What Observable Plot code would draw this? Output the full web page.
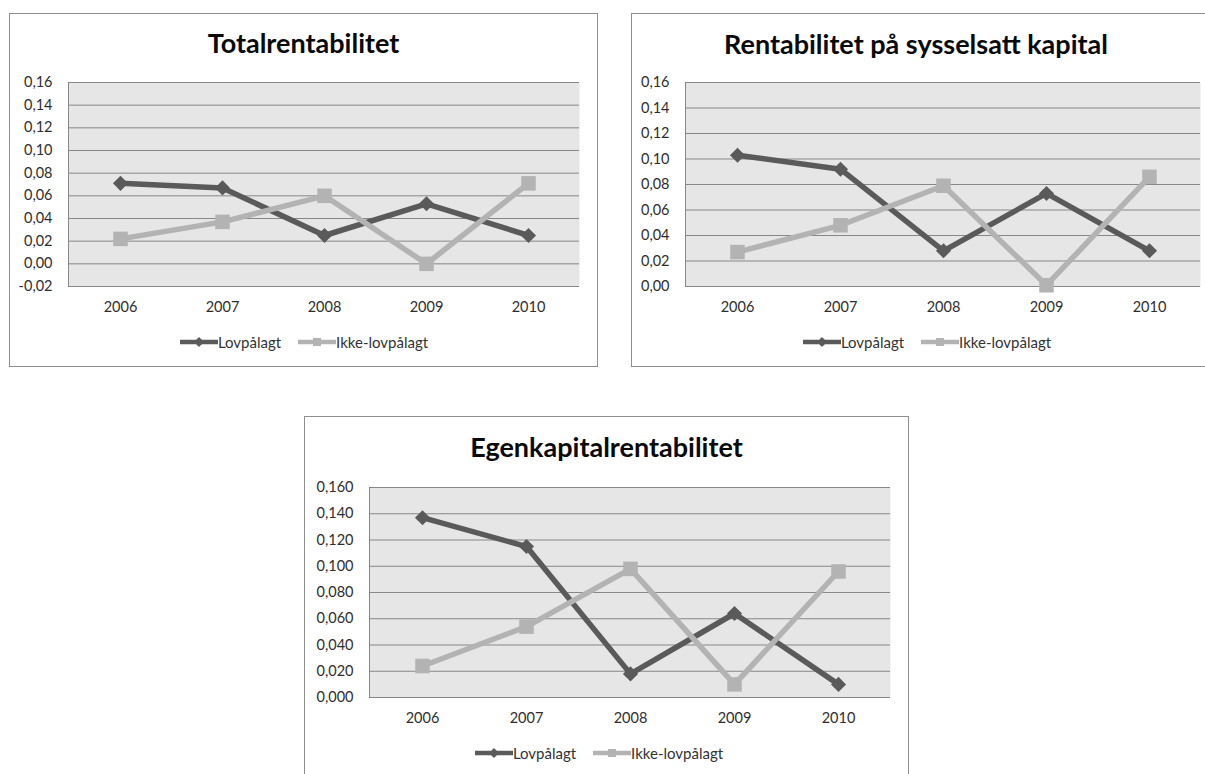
<!DOCTYPE html>
<html>
<head>
<meta charset="utf-8">
<script src="https://cdn.jsdelivr.net/npm/d3@7"></script>
<script src="https://cdn.jsdelivr.net/npm/@observablehq/plot@0.6"></script>
<style>
  html, body { margin: 0; padding: 0; background: #ffffff; }
  body { position: relative; width: 1205px; height: 774px; overflow: hidden; font-family: Lato, "Open Sans", sans-serif; }
  .frame { position: absolute; box-sizing: border-box; border: 1px solid #8e8e8e; background: #ffffff; }
  .title { position: absolute; text-align: center; font-weight: 700; font-size: 27px; line-height: 27px; color: #0a0a0a; white-space: nowrap; }
  .chart { position: absolute; }
  .legend { position: absolute; display: flex; align-items: center; justify-content: center; font-size: 15px; line-height: 16px; color: #333; white-space: nowrap; }
  .legend .item { display: flex; align-items: center; }
  .legend .item + .item { margin-left: 17px; }
  .legend svg { display: block; }
</style>
</head>
<body>
<script>
// Years on the x axis
const years = ["2006", "2007", "2008", "2009", "2010"];
const seriesNames = ["Lovpålagt", "Ikke-lovpålagt"];

// Totalrentabilitet
const totalLov  = [0.071, 0.067, 0.025, 0.053, 0.025];
const totalIkke = [0.022, 0.037, 0.060, 0.000, 0.071];
const totalTicks = [-0.02, 0.00, 0.02, 0.04, 0.06, 0.08, 0.10, 0.12, 0.14, 0.16];

// Rentabilitet på sysselsatt kapital
const rskLov  = [0.103, 0.092, 0.028, 0.073, 0.028];
const rskIkke = [0.027, 0.048, 0.079, 0.001, 0.086];
const rskTicks = [0.00, 0.02, 0.04, 0.06, 0.08, 0.10, 0.12, 0.14, 0.16];

// Egenkapitalrentabilitet
const ekLov  = [0.137, 0.115, 0.018, 0.064, 0.010];
const ekIkke = [0.024, 0.054, 0.098, 0.010, 0.096];
const ekTicks = [0.000, 0.020, 0.040, 0.060, 0.080, 0.100, 0.120, 0.140, 0.160];

const darkColor = "#5a5a5a";
const lightColor = "#b3b3b3";
const gridColor = "#878787";
const plotBg = "#e6e6e6";
const textColor = "#2e2e2e";

function add(el) { document.body.appendChild(el); return el; }

function box(cls, left, top, width, height) {
  const d = document.createElement("div");
  d.className = cls;
  d.style.left = left + "px";
  d.style.top = top + "px";
  if (width != null) d.style.width = width + "px";
  if (height != null) d.style.height = height + "px";
  return add(d);
}

function legendSample(color, symbol) {
  const ns = "http://www.w3.org/2000/svg";
  const svg = document.createElementNS(ns, "svg");
  svg.setAttribute("width", 38);
  svg.setAttribute("height", 14);
  const line = document.createElementNS(ns, "line");
  line.setAttribute("x1", 0); line.setAttribute("x2", 38);
  line.setAttribute("y1", 7); line.setAttribute("y2", 7);
  line.setAttribute("stroke", color); line.setAttribute("stroke-width", 4.5);
  svg.appendChild(line);
  const m = document.createElementNS(ns, "path");
  m.setAttribute("d", symbol === "diamond"
    ? "M19,2L24,7L19,12L14,7Z"
    : "M15,3H23V11H15Z");
  m.setAttribute("fill", color);
  svg.appendChild(m);
  return svg;
}

function legend(centerX, top, width) {
  const lg = box("legend", centerX - width / 2, top, width, 16);
  const samples = [[darkColor, "diamond"], [lightColor, "square"]];
  seriesNames.forEach((name, i) => {
    const item = document.createElement("div");
    item.className = "item";
    item.appendChild(legendSample(samples[i][0], samples[i][1]));
    const t = document.createElement("span");
    t.textContent = name;
    item.appendChild(t);
    lg.appendChild(item);
  });
}

function drawChart(cfg) {
  const {lov, ikke, ticks, decimals, left, top, width, height, margins} = cfg;
  const rows = [];
  years.forEach((year, i) => rows.push({year, value: lov[i], series: seriesNames[0]}));
  years.forEach((year, i) => rows.push({year, value: ikke[i], series: seriesNames[1]}));
  const lovRows = rows.filter(d => d.series === seriesNames[0]);
  const ikkeRows = rows.filter(d => d.series === seriesNames[1]);
  const fmt = d => d.toFixed(decimals).replace(".", ",");

  const svg = Plot.plot({
    width, height,
    marginLeft: margins[0], marginRight: margins[1], marginTop: margins[2], marginBottom: margins[3],
    style: {fontFamily: "Lato, 'Open Sans', sans-serif", fontSize: "14.5px", color: textColor, background: "transparent", overflow: "visible"},
    x: {type: "point", domain: years, padding: 0.5},
    y: {domain: [ticks[0], ticks[ticks.length - 1]]},
    marks: [
      Plot.frame({fill: plotBg, stroke: null}),
      Plot.ruleY(ticks, {stroke: gridColor, strokeWidth: 1}),
      Plot.frame({anchor: "left", stroke: gridColor}),
      Plot.axisY(ticks, {tickSize: 0, tickPadding: 16, tickFormat: fmt, label: null, fill: textColor}),
      Plot.axisX(years, {tickSize: 0, tickPadding: 15, label: null, fill: textColor}),
      Plot.line(lovRows, {x: "year", y: "value", stroke: darkColor, strokeWidth: 5.5, strokeLinejoin: "miter"}),
      Plot.dot(lovRows, {x: "year", y: "value", symbol: "diamond2", r: 6.8, fill: darkColor, stroke: null}),
      Plot.line(ikkeRows, {x: "year", y: "value", stroke: lightColor, strokeWidth: 5.5, strokeLinejoin: "miter"}),
      Plot.dot(ikkeRows, {x: "year", y: "value", symbol: "square", r: 8.2, fill: lightColor, stroke: null})
    ]
  });
  const holder = box("chart", left, top, width, height);
  holder.appendChild(svg);
}

// Chart 1: Totalrentabilitet
box("frame", 9, 13, 589, 354);
const t1 = box("title", 9, 29, 589, 27); t1.textContent = "Totalrentabilitet";
drawChart({lov: totalLov, ikke: totalIkke, ticks: totalTicks, decimals: 2,
  left: 9, top: 13, width: 589, height: 320, margins: [59, 19, 69, 47]});
legend(304, 334, 320);

// Chart 2: Rentabilitet på sysselsatt kapital
box("frame", 631, 13, 590, 354);
const t2 = box("title", 631, 30, 570, 27); t2.textContent = "Rentabilitet på sysselsatt kapital";
drawChart({lov: rskLov, ikke: rskIkke, ticks: rskTicks, decimals: 2,
  left: 631, top: 13, width: 590, height: 320, margins: [54, 21, 69, 47]});
legend(927, 334, 320);

// Chart 3: Egenkapitalrentabilitet
box("frame", 304, 416, 605, 380);
const t3 = box("title", 304, 433, 605, 27); t3.textContent = "Egenkapitalrentabilitet";
drawChart({lov: ekLov, ikke: ekIkke, ticks: ekTicks, decimals: 3,
  left: 304, top: 416, width: 605, height: 320, margins: [65, 19, 71, 39]});
legend(599, 745, 320);
</script>
</body>
</html>
